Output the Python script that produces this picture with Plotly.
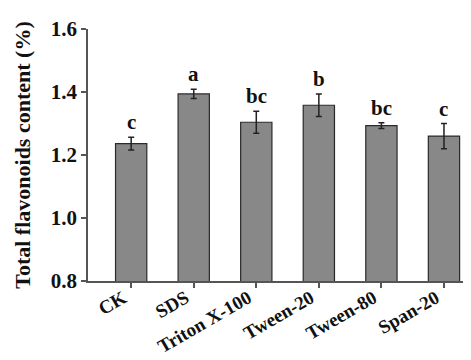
import plotly.graph_objects as go

categories = ["CK", "SDS", "Triton X-100", "Tween-20", "Tween-80", "Span-20"]
values = [1.236, 1.394, 1.304, 1.358, 1.293, 1.260]
errors = [0.020, 0.015, 0.035, 0.036, 0.009, 0.040]
letters = ["c", "a", "bc", "b", "bc", "c"]
yticks = [0.8, 1.0, 1.2, 1.4, 1.6]

FONT = "Liberation Serif"
x_idx = list(range(len(categories)))

fig = go.Figure()
fig.add_trace(go.Bar(
    x=x_idx, y=values, width=0.5,
    marker=dict(color="#888888", line=dict(color="#2a2a2a", width=1.2)),
    error_y=dict(type="data", array=errors, visible=True, color="#222222",
                 thickness=1.5, width=3),
))

for i, (v, e, t) in enumerate(zip(values, errors, letters)):
    fig.add_annotation(x=i, y=v + e, text=f"<b>{t}</b>", showarrow=False,
                       yanchor="bottom", yshift=1,
                       font=dict(family=FONT, size=21, color="#111111"))

fig.update_layout(
    width=471, height=360,
    margin=dict(l=80, r=0, t=21, b=87),
    paper_bgcolor="white", plot_bgcolor="white",
    showlegend=False,
    font=dict(family=FONT, color="#111111"),
)
fig.update_xaxes(
    range=[-0.69, 5.56], tickmode="array", tickvals=x_idx,
    ticktext=[f"<b>{c}</b>" for c in categories],
    tickangle=-30, tickfont=dict(family=FONT, size=19, color="#111111"),
    ticklabelshift=-8, ticklabelstandoff=-8,
    showline=True, linecolor="#555555", linewidth=1.5,
    ticks="outside", ticklen=5, tickcolor="#555555", tickwidth=1.5,
    showgrid=False, zeroline=False,
)
fig.update_yaxes(
    range=[0.8, 1.6], tickmode="array", tickvals=yticks,
    ticktext=[f"<b>{t:.1f}</b>" for t in yticks],
    tickfont=dict(family=FONT, size=21, color="#111111"),
    title=dict(text="<b>Total flavonoids content (%)</b>",
               font=dict(family=FONT, size=22, color="#111111"), standoff=14),
    showline=True, linecolor="#555555", linewidth=1.5,
    ticks="outside", ticklen=5, tickcolor="#555555", tickwidth=1.5,
    showgrid=False, zeroline=False,
)

fig.write_html("out.html")
